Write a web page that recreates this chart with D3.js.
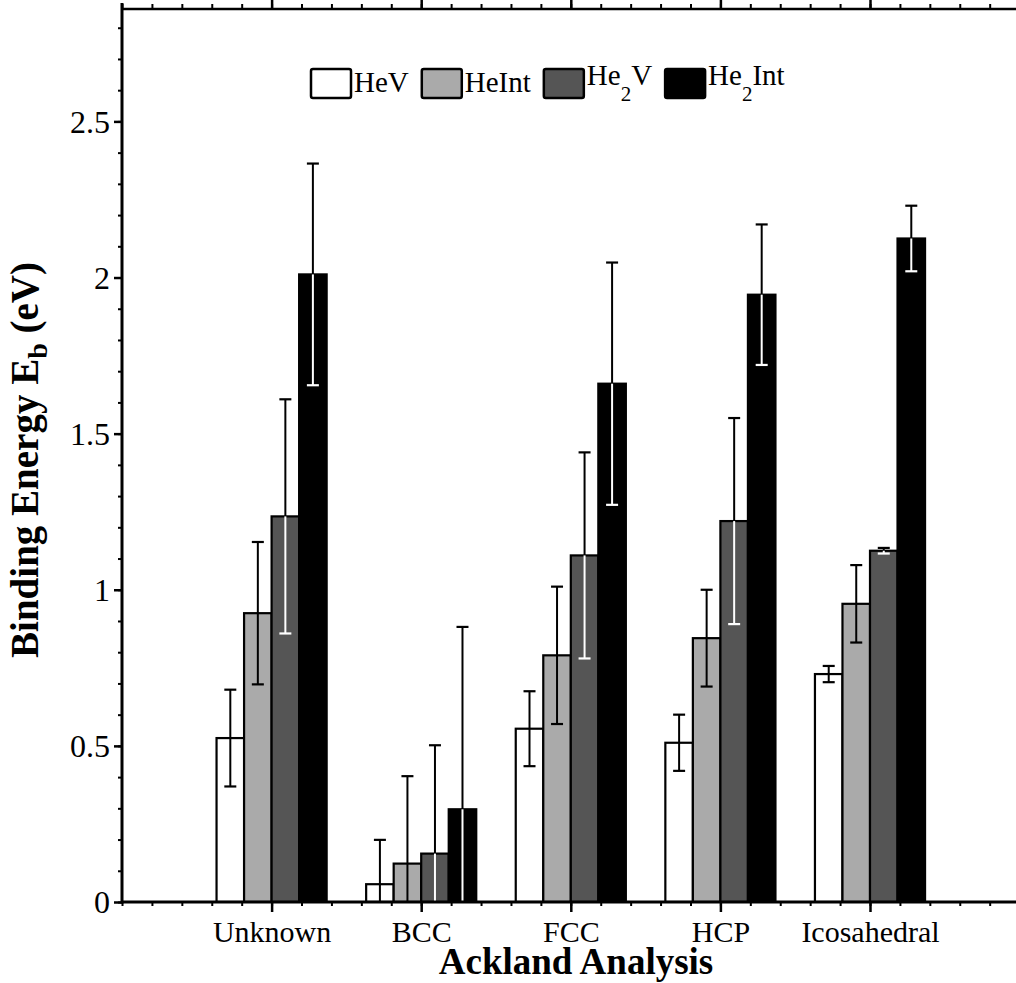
<!DOCTYPE html>
<html>
<head>
<meta charset="utf-8">
<script src="https://cdn.jsdelivr.net/npm/d3@7"></script>
<style>
  html, body { margin: 0; padding: 0; background: #fff; }
  svg { display: block; }
  text { font-family: "Liberation Serif", "Times New Roman", serif; fill: #000; }
</style>
</head>
<body>
<svg id="chart" width="1016" height="983"></svg>
<script>
// ---------- data ----------
const categories = ["Unknown", "BCC", "FCC", "HCP", "Icosahedral"];
const seriesNames = ["HeV", "HeInt", "He2V", "He2Int"];
const seriesColors = ["#ffffff", "#aaaaaa", "#555555", "#000000"];
const lowerErrColors = ["#000000", "#000000", "#ffffff", "#ffffff"];

const heV    = [0.525, 0.057, 0.555, 0.510, 0.730];
const heInt  = [0.925, 0.123, 0.790, 0.845, 0.955];
const he2V   = [1.235, 0.155, 1.110, 1.220, 1.125];
const he2Int = [2.010, 0.297, 1.660, 1.945, 2.125];

const heVErr    = [0.155, 0.142, 0.120, 0.090, 0.026];
const heIntErr  = [0.228, 0.280, 0.220, 0.155, 0.124];
const he2VErr   = [0.375, 0.347, 0.330, 0.330, 0.009];
const he2IntErr = [0.355, 0.584, 0.388, 0.225, 0.105];

const yTickValues = [0, 0.5, 1, 1.5, 2, 2.5];
const yTickLabels = ["0", "0.5", "1", "1.5", "2", "2.5"];
const xTitle = "Ackland Analysis";

const seriesValues = [heV, heInt, he2V, he2Int];
const seriesErrors = [heVErr, heIntErr, he2VErr, he2IntErr];

// ---------- layout ----------
const svg = d3.select("#chart");
const pLeft = 122, pRight = 1019.6, pTop = 9, pBottom = 902;
const x = d3.scaleLinear().domain([0, 6]).range([pLeft, pRight]);
const y = d3.scaleLinear().domain([0, 2.86]).range([pBottom, pTop]);
const barW = 0.184;

svg.append("defs").append("clipPath").attr("id", "plotClip")
  .append("rect").attr("x", pLeft).attr("y", pTop).attr("width", pRight - pLeft).attr("height", pBottom - pTop);

const plot = svg.append("g").attr("clip-path", "url(#plotClip)");

// bars
const records = [];
categories.forEach((c, i) => {
  seriesNames.forEach((s, k) => {
    records.push({ ci: i, si: k, v: seriesValues[k][i], e: seriesErrors[k][i] });
  });
});

plot.selectAll("rect.bar").data(records).join("rect")
  .attr("class", "bar")
  .attr("x", d => x(d.ci + 1 + (d.si - 2) * barW))
  .attr("width", x(barW) - x(0))
  .attr("y", d => y(d.v))
  .attr("height", d => y(0) - y(d.v))
  .attr("fill", d => seriesColors[d.si])
  .attr("stroke", "#000")
  .attr("stroke-width", 2.2);

// error bars
const capHalf = 6;
const eg = plot.append("g");
records.forEach(d => {
  const cx = x(d.ci + 1 + (d.si - 2) * barW + barW / 2);
  const yTop = y(d.v + d.e), yV = y(d.v), yLow = y(d.v - d.e);
  eg.append("line").attr("x1", cx).attr("x2", cx).attr("y1", yTop).attr("y2", yV)
    .attr("stroke", "#000").attr("stroke-width", 2);
  eg.append("line").attr("x1", cx - capHalf).attr("x2", cx + capHalf).attr("y1", yTop).attr("y2", yTop)
    .attr("stroke", "#000").attr("stroke-width", 2.2);
  const lc = lowerErrColors[d.si];
  eg.append("line").attr("x1", cx).attr("x2", cx).attr("y1", yV).attr("y2", yLow)
    .attr("stroke", lc).attr("stroke-width", 2);
  eg.append("line").attr("x1", cx - capHalf).attr("x2", cx + capHalf).attr("y1", yLow).attr("y2", yLow)
    .attr("stroke", lc).attr("stroke-width", 2.2);
});

// ---------- axes ----------
const minorX = d3.range(0, 6.0001, 0.2).map(v => +v.toFixed(2));
const majorX = categories.map((c, i) => i + 1);

const bottomAxis = svg.append("g").attr("transform", `translate(0,${pBottom})`)
  .call(d3.axisBottom(x).tickValues(minorX).tickSize(4).tickFormat(""));
bottomAxis.select(".domain").remove();
bottomAxis.selectAll("line").attr("stroke", "#000").attr("stroke-width", 2);
const bottomMajor = svg.append("g").attr("transform", `translate(0,${pBottom})`)
  .call(d3.axisBottom(x).tickValues(majorX).tickSize(10).tickPadding(10)
    .tickFormat((d, i) => categories[i]));
bottomMajor.select(".domain").remove();
bottomMajor.selectAll("line").attr("stroke", "#000").attr("stroke-width", 2.5);
bottomMajor.selectAll("text").attr("font-size", 30).attr("dy", null).attr("y", 40)
  .attr("font-family", "Liberation Serif");

const topAxis = svg.append("g").attr("transform", `translate(0,${pTop})`)
  .call(d3.axisTop(x).tickValues(minorX).tickSize(5).tickFormat(""));
topAxis.select(".domain").remove();
topAxis.selectAll("line").attr("stroke", "#000").attr("stroke-width", 2);
const topMajor = svg.append("g").attr("transform", `translate(0,${pTop})`)
  .call(d3.axisTop(x).tickValues(majorX).tickSize(10).tickFormat(""));
topMajor.select(".domain").remove();
topMajor.selectAll("line").attr("stroke", "#000").attr("stroke-width", 2.5);

const minorY = d3.range(0, 2.8501, 0.1).map(v => +v.toFixed(2));
const leftMinor = svg.append("g").attr("transform", `translate(${pLeft},0)`)
  .call(d3.axisLeft(y).tickValues(minorY).tickSize(4).tickFormat(""));
leftMinor.select(".domain").remove();
leftMinor.selectAll("line").attr("stroke", "#000").attr("stroke-width", 2);
const leftMajor = svg.append("g").attr("transform", `translate(${pLeft},0)`)
  .call(d3.axisLeft(y).tickValues(yTickValues).tickSize(8).tickPadding(4)
    .tickFormat((d, i) => yTickLabels[i]));
leftMajor.select(".domain").remove();
leftMajor.selectAll("line").attr("stroke", "#000").attr("stroke-width", 2.5);
leftMajor.selectAll("text").attr("font-size", 32).attr("dy", "0.34em")
  .attr("font-family", "Liberation Serif");

// frame lines
svg.append("line").attr("x1", pLeft).attr("x2", pRight).attr("y1", pBottom).attr("y2", pBottom)
  .attr("stroke", "#000").attr("stroke-width", 3);
svg.append("line").attr("x1", pLeft).attr("x2", pRight).attr("y1", pTop).attr("y2", pTop)
  .attr("stroke", "#000").attr("stroke-width", 2.6);
svg.append("line").attr("x1", pLeft).attr("x2", pLeft).attr("y1", 3).attr("y2", pBottom + 1.5)
  .attr("stroke", "#000").attr("stroke-width", 3);

// ---------- titles ----------
svg.append("text").attr("x", 576).attr("y", 974).attr("text-anchor", "middle")
  .attr("font-size", 37).attr("font-weight", "bold").text(xTitle);

const yt = svg.append("text").attr("transform", "translate(38,460) rotate(-90)")
  .attr("text-anchor", "middle").attr("font-size", 39).attr("font-weight", "bold");
yt.append("tspan").text("Binding Energy E");
yt.append("tspan").attr("font-size", 28).attr("dy", 9).text("b");
yt.append("tspan").attr("dy", -9).text("\u00a0(eV)");

// ---------- legend ----------
function addLabel(g, name, xPos) {
  const m = name.match(/^(He)(\d?)(.*)$/);
  const hasSub = m[2] !== "";
  const t = g.append("text").attr("x", xPos).attr("y", hasSub ? 85 : 92).attr("font-size", 29);
  t.append("tspan").text(m[1]);
  if (hasSub) {
    t.append("tspan").attr("font-size", 21).attr("dy", 16).text(m[2]);
    t.append("tspan").attr("dy", -16).text(m[3]);
  } else {
    t.append("tspan").text(m[3]);
  }
  return t;
}
const legend = svg.append("g");
let lx = 311;
seriesNames.forEach((name, k) => {
  legend.append("rect").attr("x", lx).attr("y", 69).attr("width", 40).attr("height", 29)
    .attr("rx", 2).attr("fill", seriesColors[k]).attr("stroke", "#000").attr("stroke-width", 2.5);
  const t = addLabel(legend, name, lx + 43);
  const w = t.node().getComputedTextLength();
  lx = lx + 43 + w + 13;
});
</script>
</body>
</html>
